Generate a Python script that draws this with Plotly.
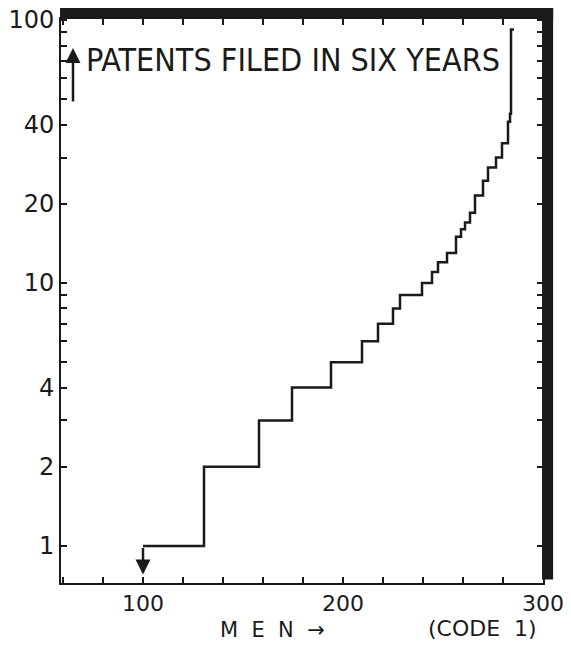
import plotly.graph_objects as go

# Step positions (men, cumulative rank) and patent counts
men = [100, 130.5, 158, 174.5, 194, 209.5, 217.5, 225, 228.5, 239.5, 244.5, 247.5,
       252, 256.5, 259, 261, 263.5, 266, 270, 272.5, 276.5, 279.5, 282.5, 283.5, 284, 285.5]
patents = [1, 2, 3, 4, 5, 6, 7, 8, 9, 10, 11, 12,
           13, 15, 16, 17, 18.5, 21.5, 24.5, 27.5, 30, 34, 41, 44, 92, 92]

y_tickvals = [1, 2, 3, 4, 5, 6, 7, 8, 9, 10, 20, 30, 40, 50, 60, 70, 80, 90, 100]
y_ticklabels = {1: "1", 2: "2", 4: "4", 10: "10", 20: "20", 40: "40", 100: "100"}
x_tickvals = list(range(60, 301, 20))
x_ticklabels = {100: "100", 200: "200", 300: "300"}

INK = "#1a1a1a"
LABEL_FONT = "DejaVu Sans"
TITLE_FONT = "Liberation Sans Narrow, DejaVu Sans Condensed, Roboto Condensed, Arial Narrow, sans-serif"

fig = go.Figure()
fig.add_trace(go.Scatter(
    x=men, y=patents, mode="lines", line=dict(shape="hv", color=INK, width=2.5),
    hoverinfo="skip", showlegend=False))

fig.update_layout(
    width=571, height=646,
    margin=dict(l=61, r=28, t=19, b=63, autoexpand=False),
    paper_bgcolor="white", plot_bgcolor="white",
    showlegend=False,
    xaxis=dict(
        range=[59, 300], showgrid=False, zeroline=False, automargin=False,
        tickmode="array", tickvals=x_tickvals,
        ticktext=[x_ticklabels.get(v, "") for v in x_tickvals],
        ticks="inside", ticklen=6, tickwidth=1.5, tickcolor=INK,
        showline=True, linecolor=INK, linewidth=2, mirror="ticks",
        tickfont=dict(family=LABEL_FONT, size=22, color=INK),
    ),
    yaxis=dict(
        type="log", range=[-0.141, 2.004], showgrid=False, zeroline=False, automargin=False,
        tickmode="array", tickvals=y_tickvals,
        ticktext=[y_ticklabels.get(v, "") for v in y_tickvals],
        ticks="inside", ticklen=6, tickwidth=1.5, tickcolor=INK,
        showline=True, linecolor=INK, linewidth=2, mirror="ticks",
        tickfont=dict(family=LABEL_FONT, size=24, color=INK),
    ),
)

# Thick top and right frame bars
fig.add_shape(type="rect", xref="paper", yref="paper",
              x0=-0.002, x1=1.021, y0=1.0, y1=1.0195,
              fillcolor=INK, line=dict(width=0), layer="above")
fig.add_shape(type="rect", xref="paper", yref="paper",
              x0=0.998, x1=1.021, y0=0.006, y1=1.0195,
              fillcolor=INK, line=dict(width=0), layer="above")

# Title inside the plot
fig.add_annotation(xref="paper", yref="paper", x=0.048, y=0.927,
                   xanchor="left", yanchor="middle", showarrow=False,
                   text="PATENTS FILED IN SIX YEARS",
                   font=dict(family=TITLE_FONT, size=32, color=INK))
# Up arrow next to title
fig.add_annotation(xref="paper", yref="paper", x=0.0249, y=0.9486,
                   ax=0, ay=55, text="", showarrow=True,
                   arrowhead=2, arrowsize=1.2, arrowwidth=2.5, arrowcolor=INK)
# Down arrow at the start of the curve
fig.add_annotation(xref="x", yref="paper", x=100, y=0.015,
                   ax=0, ay=-28, text="", showarrow=True,
                   arrowhead=2, arrowsize=1.2, arrowwidth=2.5, arrowcolor=INK)

# Axis captions
fig.add_annotation(xref="paper", yref="paper", x=(272 - 61) / 482, y=-0.083,
                   xanchor="center", yanchor="middle", showarrow=False,
                   text="M  E  N  \u2192", font=dict(family=LABEL_FONT, size=21, color=INK))
fig.add_annotation(xref="paper", yref="paper", x=(482 - 61) / 482, y=-0.08,
                   xanchor="center", yanchor="middle", showarrow=False,
                   text="(CODE  1)", font=dict(family=LABEL_FONT, size=22, color=INK))

fig.write_html("out.html")
